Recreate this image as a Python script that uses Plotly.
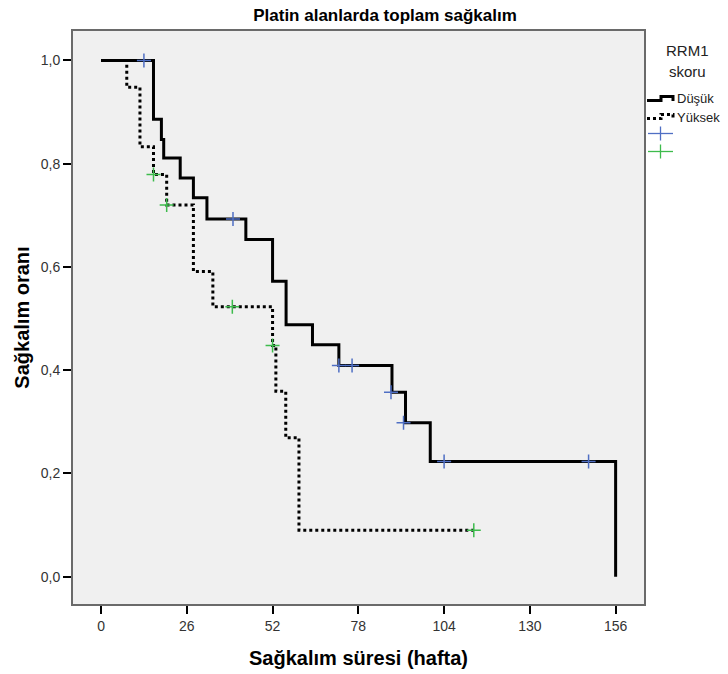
import plotly.graph_objects as go

# Kaplan-Meier steps (weeks, survival proportion)
low_times = [0, 15.9, 18.3, 19.0, 24.0, 28.0, 32.1, 43.9, 52.0, 56.1, 64.1, 72.1, 88.2, 92.3, 99.8, 156.0]
low_surv = [1.0, 0.886, 0.847, 0.811, 0.772, 0.734, 0.693, 0.653, 0.572, 0.488, 0.449, 0.409, 0.357, 0.298, 0.223, 0.0]
low_cens_t = [13.0, 40.0, 72.1, 76.1, 87.9, 91.7, 104.0, 147.8]
low_cens_s = [1.0, 0.693, 0.409, 0.409, 0.357, 0.298, 0.223, 0.223]

high_times = [0, 7.8, 11.8, 15.9, 19.9, 28.0, 33.9, 52.0, 53.0, 56.0, 60.0, 113.0]
high_surv = [1.0, 0.948, 0.833, 0.779, 0.720, 0.591, 0.523, 0.448, 0.359, 0.269, 0.090, 0.090]
high_cens_t = [15.9, 19.9, 39.8, 52.0, 113.0]
high_cens_s = [0.779, 0.720, 0.523, 0.448, 0.090]

group_names = ["Düşük", "Yüksek"]
legend_title = ["RRM1", "skoru"]
x_ticks = [0, 26, 52, 78, 104, 130, 156]
y_ticks = [0.0, 0.2, 0.4, 0.6, 0.8, 1.0]

BLUE = "#4f6fc4"
GREEN = "#3dbb4c"
FONT = "Liberation Sans, Arial, sans-serif"

W, H = 728, 674
ML, MR, MT, MB = 73, 84, 31, 70
PW, PH = W - ML - MR, H - MT - MB


def px(x):
    return (x - ML) / PW


def py(y):
    return (H - MB - y) / PH


fig = go.Figure()
fig.add_trace(go.Scatter(x=low_times, y=low_surv, mode="lines", line_shape="hv",
                         line=dict(color="black", width=3), name=group_names[0], showlegend=False))
fig.add_trace(go.Scatter(x=high_times, y=high_surv, mode="lines", line_shape="hv",
                         line=dict(color="black", width=3, dash="dot"), name=group_names[1], showlegend=False))
fig.add_trace(go.Scatter(x=low_cens_t, y=low_cens_s, mode="markers", name=group_names[0] + " sansür",
                         showlegend=False,
                         marker=dict(symbol="cross-thin", size=10, line=dict(color=BLUE, width=1.5))))
fig.add_trace(go.Scatter(x=high_cens_t, y=high_cens_s, mode="markers", name=group_names[1] + " sansür",
                         showlegend=False,
                         marker=dict(symbol="cross-thin", size=10, line=dict(color=GREEN, width=1.5))))

# manual legend (step-shaped icons like the original)
shapes = []
annotations = []
for txt, yy in zip(legend_title, [50, 71]):
    annotations.append(dict(text=txt, x=px(687), y=py(yy), xref="paper", yref="paper",
                            xanchor="center", yanchor="middle", showarrow=False,
                            font=dict(size=15, color="#222222")))


def step_path(y0):
    pts = [(647, y0 + 1.5), (661, y0 + 1.5), (661, y0 - 2.5), (673, y0 - 2.5), (673, y0 + 2)]
    return "M " + " L ".join(f"{px(a):.5f},{py(b):.5f}" for a, b in pts)


for i, (name, yy, dash) in enumerate(zip(group_names, [99, 117], ["solid", "dot"])):
    shapes.append(dict(type="path", path=step_path(yy), xref="paper", yref="paper",
                       line=dict(color="black", width=3, dash=dash)))
    annotations.append(dict(text=name, x=px(675), y=py(yy), xref="paper", yref="paper",
                            xanchor="left", yanchor="middle", showarrow=False,
                            font=dict(size=13, color="#222222")))

for col, yy in zip([BLUE, GREEN], [133.5, 151.5]):
    shapes.append(dict(type="line", x0=px(648), x1=px(673), y0=py(yy), y1=py(yy),
                       xref="paper", yref="paper", line=dict(color=col, width=1.3)))
    shapes.append(dict(type="line", x0=px(660.5), x1=px(660.5), y0=py(yy - 7), y1=py(yy + 7),
                       xref="paper", yref="paper", line=dict(color=col, width=1.3)))

fig.update_layout(
    width=W, height=H,
    margin=dict(l=ML, r=MR, t=MT, b=MB, autoexpand=False),
    paper_bgcolor="white", plot_bgcolor="#f0f0f0",
    separators=",.",
    font=dict(family=FONT, color="#222222", size=14),
    title=dict(text="<b>Platin alanlarda toplam sağkalım</b>", x=385 / W, xref="container",
               xanchor="center", y=1 - 15 / H, yref="container", yanchor="middle",
               font=dict(size=17, color="black")),
    showlegend=False,
    shapes=shapes,
    annotations=annotations,
)
fig.update_xaxes(range=[-8.5, 164.6], tickvals=x_ticks, ticks="outside", ticklen=8,
                 tickcolor="black", tickwidth=1.5, showgrid=False, zeroline=False,
                 showline=True, linecolor="#6a6a6a", linewidth=2, mirror=True,
                 tickfont=dict(size=14, color="#333333"),
                 title=dict(text="<b>Sağkalım süresi (hafta)</b>", font=dict(size=20, color="black"), standoff=18))
fig.update_yaxes(range=[-0.053, 1.057], tickvals=y_ticks, tickformat=".1f", ticks="outside", ticklen=8,
                 tickcolor="black", tickwidth=1.5, showgrid=False, zeroline=False,
                 showline=True, linecolor="#6a6a6a", linewidth=2, mirror=True,
                 tickfont=dict(size=14, color="#333333"),
                 title=dict(text="<b>Sağkalım oranı</b>", font=dict(size=20, color="black"), standoff=6))

fig.write_html("out.html")
